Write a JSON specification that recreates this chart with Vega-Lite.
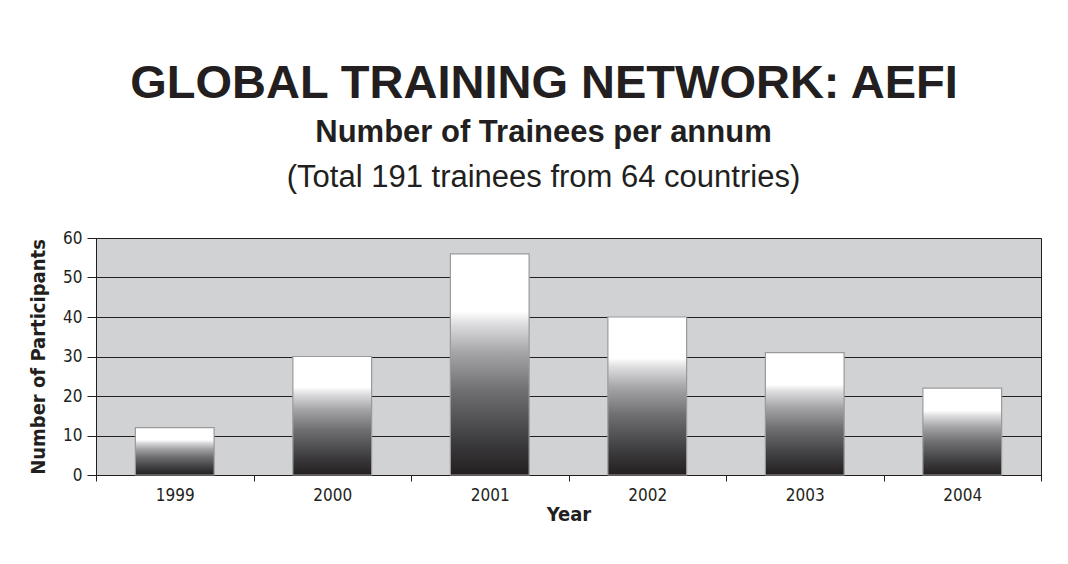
{
  "$schema": "https://vega.github.io/schema/vega-lite/v6.json",
  "background": "white",
  "autosize": {"type": "pad"},
  "padding": {"left": 28, "top": 59, "right": 20, "bottom": 10},
  "title": {
    "text": "GLOBAL TRAINING NETWORK: AEFI",
    "font": "Liberation Sans",
    "fontSize": 47,
    "fontWeight": "bold",
    "color": "#231f20",
    "anchor": "middle",
    "frame": "bounds",
    "dx": 9,
    "offset": 9
  },
  "vconcat": [
    {
      "title": {
        "text": "Number of Trainees per annum",
        "subtitle": "(Total 191 trainees from 64 countries)",
        "font": "Liberation Sans",
        "fontSize": 31,
        "fontWeight": "bold",
        "color": "#231f20",
        "subtitleFont": "Liberation Sans",
        "subtitleFontSize": 31,
        "subtitleFontWeight": "normal",
        "subtitleColor": "#231f20",
        "subtitlePadding": 14,
        "anchor": "middle",
        "frame": "group",
        "dx": -25,
        "offset": 35
      },
      "width": 945,
      "height": 237,
      "data": {
        "values": [
          {"Year": "1999", "Participants": 12},
          {"Year": "2000", "Participants": 30},
          {"Year": "2001", "Participants": 56},
          {"Year": "2002", "Participants": 40},
          {"Year": "2003", "Participants": 31},
          {"Year": "2004", "Participants": 22}
        ]
      },
      "mark": {
        "type": "bar",
        "width": {"band": 0.5},
        "stroke": "#9a9a9c",
        "strokeWidth": 1.2,
        "color": {
          "gradient": "linear",
          "x1": 0, "y1": 1, "x2": 0, "y2": 0,
          "stops": [
            {"offset": 0, "color": "#231f20"},
            {"offset": 0.15, "color": "#3c3b3d"},
            {"offset": 0.38, "color": "#6f6f72"},
            {"offset": 0.55, "color": "#a4a4a7"},
            {"offset": 0.68, "color": "#dcdcde"},
            {"offset": 0.74, "color": "#ffffff"},
            {"offset": 1, "color": "#ffffff"}
          ]
        }
      },
      "encoding": {
        "x": {
          "field": "Year",
          "type": "ordinal",
          "scale": {"paddingInner": 0, "paddingOuter": 0},
          "axis": {
            "title": "Year",
            "labelAngle": 0,
            "tickBand": "extent",
            "tickSize": 6,
            "labelPadding": 6,
            "titlePadding": 1
          }
        },
        "y": {
          "field": "Participants",
          "type": "quantitative",
          "scale": {"domain": [0, 60], "nice": false},
          "axis": {
            "title": "Number of Participants",
            "values": [0, 10, 20, 30, 40, 50, 60],
            "tickSize": 9,
            "labelPadding": 5,
            "titlePadding": 14,
            "grid": true
          }
        }
      }
    }
  ],
  "config": {
    "view": {"fill": "#d1d2d4", "stroke": "#231f20", "strokeWidth": 1},
    "axis": {
      "labelFont": "DejaVu Sans Condensed",
      "labelFontSize": 17,
      "labelColor": "#231f20",
      "titleFont": "DejaVu Sans Condensed",
      "titleFontSize": 20,
      "titleFontWeight": "bold",
      "titleColor": "#231f20",
      "domainColor": "#231f20",
      "tickColor": "#231f20",
      "gridColor": "#231f20",
      "gridOpacity": 1,
      "gridWidth": 1
    }
  }
}
